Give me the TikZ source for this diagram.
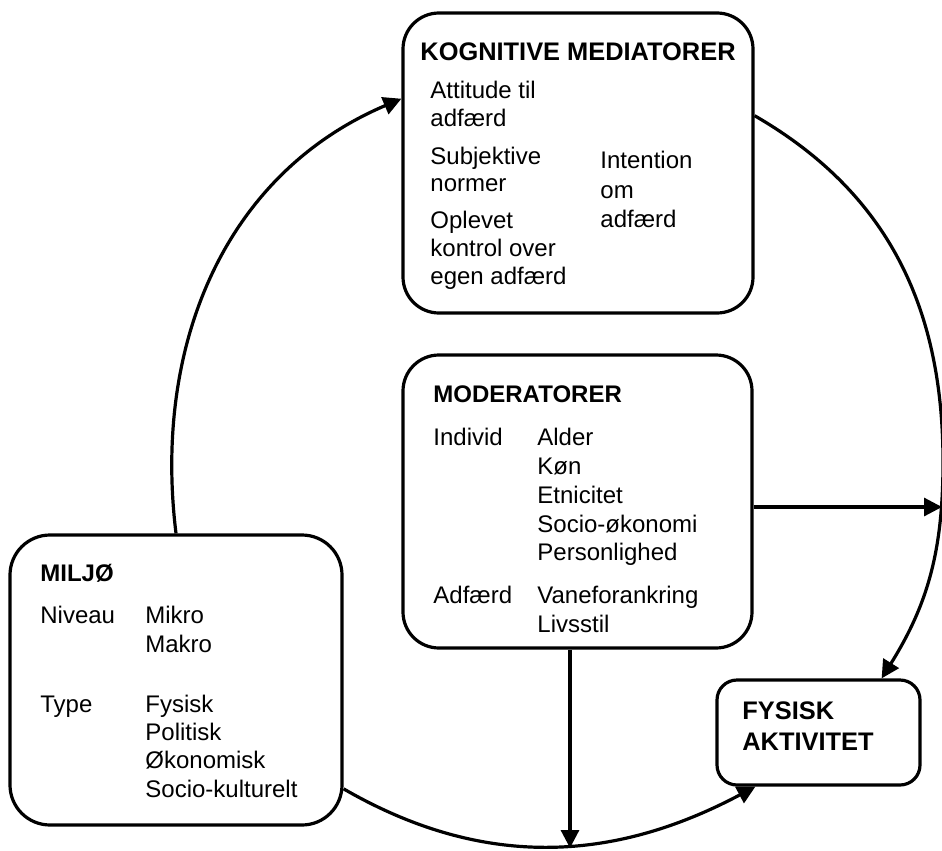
\documentclass[tikz,border=0pt]{standalone}
\usepackage{fontspec}
\setmainfont{Liberation Sans}
\usetikzlibrary{arrows.meta}
\tikzset{
  boks/.style={draw, line width=1.6pt, rounded corners=18pt, inner sep=0pt},
  pil/.style={line width=1.6pt, -{Triangle[length=9pt,width=9pt]}},
  tekst/.style={anchor=base west, inner sep=0pt, font=\fontsize{12}{14}\selectfont},
  titel/.style={anchor=base west, inner sep=0pt, font=\fontsize{12}{14}\selectfont\bfseries},
  stortitel/.style={titel, font=\fontsize{12.7}{14}\selectfont\bfseries},
}
\begin{document}
\begin{tikzpicture}[x=0.5pt, y=-0.5pt]
\useasboundingbox (0,0) rectangle (942,851);
% kasser
\node[boks, minimum width=175pt, minimum height=150pt] (kog) at (578,163) {};
\node[boks, minimum width=174.5pt, minimum height=146.5pt] (mod) at (577.5,501.5) {};
\node[boks, rounded corners=20pt, minimum width=166pt, minimum height=145pt] (miljo) at (176,680) {};
\node[boks, rounded corners=10pt, minimum width=101.5pt, minimum height=52.5pt] (fys) at (818.5,732.5) {};
% kognitive mediatorer
\node[stortitel, anchor=base] (kogtitel) at (578,61) {KOGNITIVE MEDIATORER};
\foreach \tekst/\y [count=\i] in {Attitude til/98, adfærd/126, Subjektive/164, normer/191, Oplevet/228, kontrol over/256, egen adfærd/284}
  \node[tekst] (kogA\i) at (430,\y) {\tekst};
\foreach \tekst/\y [count=\i] in {Intention/168, om/198, adfærd/227}
  \node[tekst] (kogB\i) at (600,\y) {\tekst};
% moderatorer
\node[titel] (modtitel) at (433,402) {MODERATORER};
\node[tekst] (individ) at (433,445) {Individ};
\node[tekst] (adfaerd) at (433,603) {Adfærd};
\foreach \tekst/\y [count=\i] in {Alder/445, Køn/474, Etnicitet/503, Socio-økonomi/532, Personlighed/560, Vaneforankring/603, Livsstil/632}
  \node[tekst] (modB\i) at (537,\y) {\tekst};
% miljo
\node[titel] (miljotitel) at (40,581) {MILJØ};
\node[tekst] (niveau) at (40,623) {Niveau};
\node[tekst] (type) at (40,712) {Type};
\foreach \tekst/\y [count=\i] in {Mikro/623, Makro/652, Fysisk/712, Politisk/740, Økonomisk/768, Socio-kulturelt/797}
  \node[tekst] (miljoB\i) at (145,\y) {\tekst};
% fysisk aktivitet
\node[stortitel] (fystitel1) at (742,719) {FYSISK};
\node[stortitel] (fystitel2) at (742,750) {AKTIVITET};
% pile
\coordinate (rand) at (943,462);
\coordinate (randmod) at (942,507);
\coordinate (bund) at (570,848);
\draw[pil] (miljo.north) to[out=97, in=203] (kog.160);
\draw[pil] (kog.15) to[out=-30, in=90] (rand) to[out=-90, in=58] ([xshift=-20pt]fys.north east);
\draw[pil] (miljo.-33) to[out=-30, in=208] ([xshift=20pt]fys.south west);
\draw[pil] (mod.east |- randmod) -- (randmod);
\draw[pil] (bund |- mod.south) -- (bund);
\end{tikzpicture}
\end{document}
